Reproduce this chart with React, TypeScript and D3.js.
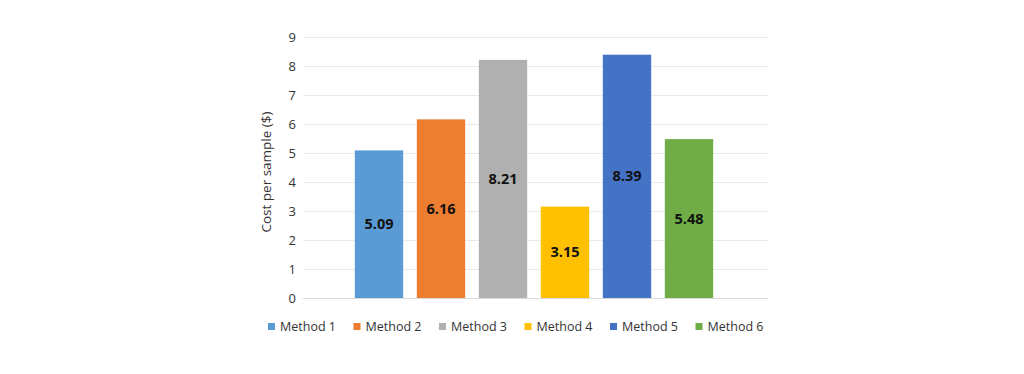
import React, { useEffect, useRef } from 'react';
import * as d3 from 'd3';

const methods = ['Method 1', 'Method 2', 'Method 3', 'Method 4', 'Method 5', 'Method 6'];
const costs = [5.09, 6.16, 8.21, 3.15, 8.39, 5.48];
const colors = ['#5B9BD5', '#ED7D31', '#B0B0B0', '#FFC000', '#4472C4', '#70AD47'];
const yTicks = [0, 1, 2, 3, 4, 5, 6, 7, 8, 9];

export default function App() {
  const svgRef = useRef<SVGSVGElement>(null);

  useEffect(() => {
    if (!svgRef.current) return;
    const svg = d3.select(svgRef.current);
    svg.selectAll('*').remove();

    const font = '"Open Sans", "Noto Sans", sans-serif';
    const left = 303;
    const right = 768;
    const top = 37;
    const bottom = 298;

    const y = d3.scaleLinear().domain([0, 9]).range([bottom, top]);

    // single category with six series, like an Excel clustered column
    const x = d3.scaleBand<string>()
      .domain(methods)
      .range([left + 45, right - 48])
      .paddingInner(0.22)
      .paddingOuter(0.11);

    const g = svg.append('g');

    // gridlines
    g.selectAll('line.grid')
      .data(yTicks)
      .enter()
      .append('line')
      .attr('class', 'grid')
      .attr('x1', left)
      .attr('x2', right)
      .attr('y1', d => y(d) + 0.5)
      .attr('y2', d => y(d) + 0.5)
      .style('stroke', d => (d === 0 ? '#d9d9d9' : '#e8e8e8'))
      .style('stroke-width', 1);

    // y tick labels
    g.selectAll('text.tick')
      .data(yTicks)
      .enter()
      .append('text')
      .attr('class', 'tick')
      .attr('x', 296)
      .attr('y', d => y(d))
      .attr('dy', '0.35em')
      .attr('text-anchor', 'end')
      .style('font-family', font)
      .style('font-size', '13px')
      .style('fill', '#333')
      .text(d => `${d}`);

    // axis title
    svg.append('text')
      .attr('transform', `translate(271,172) rotate(-90)`)
      .attr('text-anchor', 'middle')
      .style('font-family', font)
      .style('font-size', '13.5px')
      .style('fill', '#333')
      .text('Cost per sample ($)');

    // bars
    methods.forEach((m, i) => {
      const v = costs[i];
      g.append('rect')
        .attr('x', x(m)!)
        .attr('y', y(v))
        .attr('width', x.bandwidth())
        .attr('height', y(0) - y(v))
        .style('fill', colors[i]);

      g.append('text')
        .attr('x', x(m)! + x.bandwidth() / 2)
        .attr('y', (y(v) + y(0)) / 2)
        .attr('dy', '0.35em')
        .attr('text-anchor', 'middle')
        .style('font-family', font)
        .style('font-size', '14.5px')
        .style('font-weight', '700')
        .style('fill', '#111')
        .text(v.toFixed(2));
    });

    // legend
    const lx = d3.scaleBand<string>()
      .domain(methods)
      .range([268, 268 + 6 * 85.5]);

    const legend = svg.append('g')
      .attr('transform', 'translate(0,327)');

    const items = legend.selectAll('g.item')
      .data(methods)
      .enter()
      .append('g')
      .attr('class', 'item')
      .attr('transform', d => `translate(${lx(d)},0)`);

    items.append('rect')
      .attr('x', 0)
      .attr('y', -4)
      .attr('width', 7)
      .attr('height', 7)
      .style('fill', (d, i) => colors[i]);

    items.append('text')
      .attr('x', 12)
      .attr('y', 0)
      .attr('dy', '0.35em')
      .style('font-family', font)
      .style('font-size', '12.5px')
      .style('fill', '#333')
      .text(d => d);
  }, []);

  return (
    <svg
      ref={svgRef}
      width={1024}
      height={374}
      style={{ position: 'absolute', left: 0, top: 0, background: '#fff' }}
    />
  );
}
